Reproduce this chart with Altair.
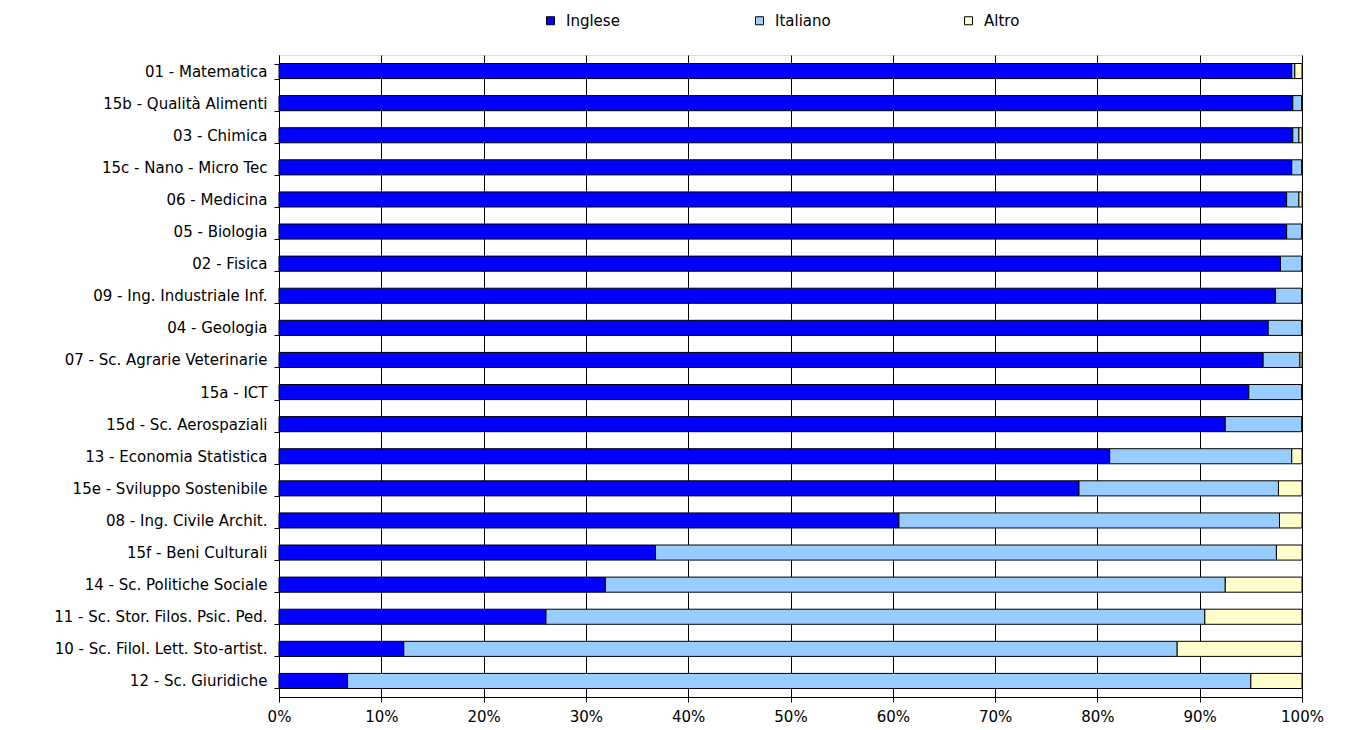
import altair as alt
import pandas as pd

categories = [
    "01 - Matematica", "15b - Qualità Alimenti", "03 - Chimica", "15c - Nano - Micro Tec",
    "06 - Medicina", "05 - Biologia", "02 - Fisica", "09 - Ing. Industriale Inf.",
    "04 - Geologia", "07 - Sc. Agrarie Veterinarie", "15a - ICT", "15d - Sc. Aerospaziali",
    "13 - Economia Statistica", "15e - Sviluppo Sostenibile", "08 - Ing. Civile Archit.",
    "15f - Beni Culturali", "14 - Sc. Politiche Sociale", "11 - Sc. Stor. Filos. Psic. Ped.",
    "10 - Sc. Filol. Lett. Sto-artist.", "12 - Sc. Giuridiche",
]
inglese = [99.0, 99.1, 99.1, 99.0, 98.5, 98.5, 97.9, 97.4, 96.7, 96.2, 94.8, 92.5,
           81.2, 78.2, 60.6, 36.8, 31.9, 26.1, 12.2, 6.7]
italiano = [0.3, 0.9, 0.6, 1.0, 1.2, 1.5, 2.1, 2.6, 3.3, 3.6, 5.2, 7.5,
            17.8, 19.5, 37.2, 60.7, 60.6, 64.4, 75.6, 88.3]
altro = [0.7, 0.0, 0.3, 0.0, 0.3, 0.0, 0.0, 0.0, 0.0, 0.2, 0.0, 0.0,
         1.0, 2.3, 2.2, 2.5, 7.5, 9.5, 12.2, 5.0]

series = ["Inglese", "Italiano", "Altro"]
colors = ["#0000FF", "#99CCFF", "#FFFFCC"]

rows = []
for i, c in enumerate(categories):
    for k, (s, vals) in enumerate(zip(series, [inglese, italiano, altro])):
        rows.append({"cat": c, "serie": s, "val": vals[i] / 100.0, "ord": k})
df = pd.DataFrame(rows)

font = "DejaVu Sans"

chart = alt.Chart(df).mark_bar(stroke="black", strokeWidth=1).encode(
    y=alt.Y("cat:N", sort=categories, title=None,
            scale=alt.Scale(paddingInner=0.53, paddingOuter=0.265),
            axis=alt.Axis(labelFont=font, labelFontSize=15, labelColor="black",
                          domainColor="black", tickColor="black", tickSize=5,
                          tickBand="extent", labelPadding=7, labelLimit=400)),
    x=alt.X("val:Q", stack="zero", title=None,
            scale=alt.Scale(domain=[0, 1], nice=False),
            axis=alt.Axis(format=".0%", values=[i / 10 for i in range(11)],
                          labelFont=font, labelFontSize=15, labelColor="black",
                          labelFlush=False,
                          domainColor="black", tickColor="black", tickSize=5,
                          gridColor="black", gridOpacity=1, labelPadding=7)),
    color=alt.Color("serie:N", sort=series,
                    scale=alt.Scale(domain=series, range=colors),
                    legend=alt.Legend(title=None, orient="none", direction="horizontal",
                                      columns=3, legendX=264, legendY=-42,
                                      symbolType="square", symbolSize=64,
                                      symbolStrokeColor="black", symbolStrokeWidth=1,
                                      symbolOpacity=1, labelOffset=8,
                                      labelFont=font, labelFontSize=15, labelColor="black",
                                      columnPadding=130, gridAlign="all")),
    order=alt.Order("ord:Q"),
).properties(
    width=1023, height=642,
    autosize=alt.AutoSizeParams(type="none"),
    padding={"left": 271, "top": 47, "right": 36, "bottom": 30},
).configure_view(stroke="#999999", strokeWidth=1).configure(background="white")

chart.save("out.html", embed_options={"renderer": "svg", "actions": False})
